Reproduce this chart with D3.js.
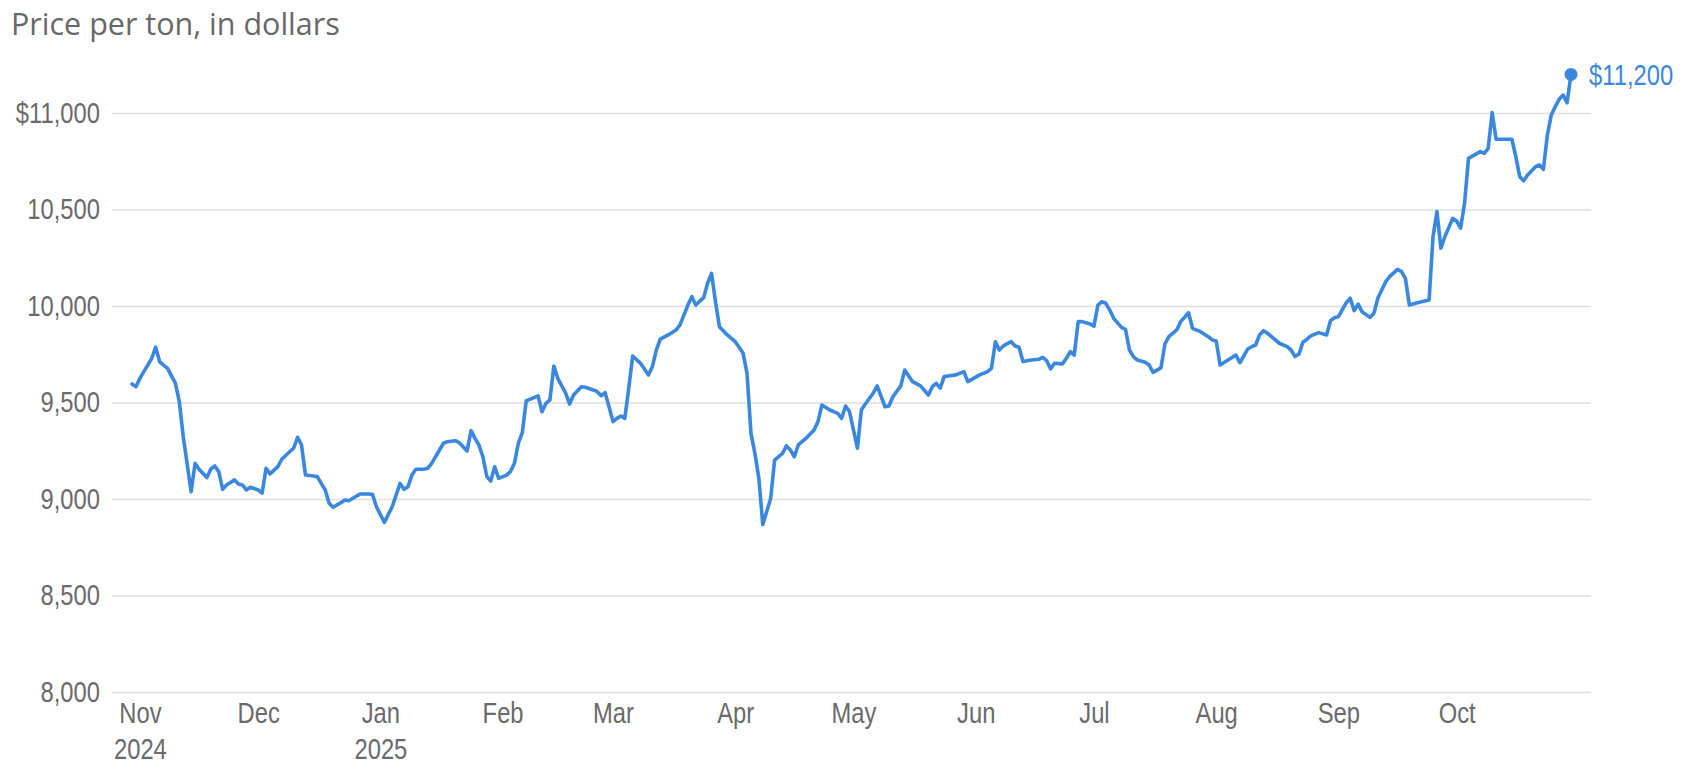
<!DOCTYPE html>
<html>
<head>
<meta charset="utf-8">
<script src="https://cdn.jsdelivr.net/npm/d3@7"></script>
<style>
  body { margin: 0; background: #fff; }
</style>
</head>
<body>
<svg id="chart" width="1684" height="776"></svg>
<script>
// daily closes, [day of month, $ per ton]
const oct2024 = [[30, 9596], [31, 9582]];
const nov2024 = [[1, 9625], [2, 9660], [3, 9694], [4, 9729], [5, 9786], [6, 9712], [7, 9694], [8, 9677], [10, 9600],
  [11, 9504], [12, 9323], [14, 9038], [15, 9185], [16, 9154], [18, 9111], [19, 9156], [20, 9171], [21, 9142],
  [22, 9050], [23, 9073], [25, 9099], [26, 9078], [27, 9073], [28, 9047], [29, 9061]];
const dec2024 = [[1, 9047], [2, 9030], [3, 9159], [4, 9130], [6, 9168], [7, 9206], [9, 9245], [10, 9263], [11, 9320],
  [12, 9280], [13, 9124], [15, 9119], [16, 9116], [17, 9081], [18, 9047], [19, 8978], [20, 8957], [22, 8981],
  [23, 8995], [24, 8991], [26, 9016], [27, 9026], [29, 9026], [30, 9024], [31, 8960]];
const jan2025 = [[2, 8879], [4, 8960], [6, 9081], [7, 9050], [8, 9064], [9, 9124], [10, 9154], [12, 9154], [13, 9159],
  [14, 9185], [16, 9254], [17, 9289], [18, 9297], [20, 9302], [21, 9292], [22, 9271], [23, 9249], [24, 9354],
  [25, 9314], [26, 9280], [27, 9219], [28, 9116], [29, 9093], [30, 9167], [31, 9107]];
const feb2025 = [[2, 9124], [3, 9142], [4, 9185], [5, 9289], [6, 9344], [7, 9509], [9, 9525], [10, 9534], [11, 9452],
  [12, 9496], [13, 9513], [14, 9689], [15, 9625], [17, 9548], [18, 9492], [19, 9539], [21, 9582], [22, 9579],
  [24, 9565], [25, 9556], [26, 9535], [27, 9551], [28, 9478]];
const mar2025 = [[1, 9401], [2, 9418], [3, 9430], [4, 9418], [5, 9574], [6, 9741], [8, 9703], [10, 9643], [11, 9686],
  [12, 9772], [13, 9828], [15, 9850], [17, 9876], [18, 9902], [19, 9953], [20, 10005], [21, 10048], [22, 10005],
  [23, 10025], [24, 10043], [25, 10118], [26, 10169], [27, 10022], [28, 9893], [30, 9850]];
const apr2025 = [[1, 9815], [2, 9786], [3, 9755], [4, 9651], [5, 9340], [6, 9236], [7, 9107], [8, 8868], [10, 9003],
  [11, 9202], [13, 9236], [14, 9275], [15, 9254], [16, 9219], [17, 9280], [19, 9315], [21, 9358], [22, 9401],
  [23, 9487], [25, 9461], [27, 9444], [28, 9418], [29, 9482], [30, 9452]];
const may2025 = [[2, 9263], [3, 9461], [4, 9492], [6, 9548], [7, 9586], [9, 9478], [10, 9482], [11, 9530], [13, 9586],
  [14, 9668], [16, 9608], [18, 9586], [20, 9539], [21, 9582], [22, 9599], [23, 9574], [24, 9634], [25, 9637],
  [27, 9643], [29, 9660], [30, 9608]];
const jun2025 = [[2, 9643], [4, 9660], [5, 9677], [6, 9815], [7, 9772], [8, 9793], [10, 9815], [11, 9793], [12, 9786],
  [13, 9712], [15, 9720], [17, 9724], [18, 9734], [19, 9717], [20, 9674], [21, 9703], [23, 9700], [24, 9729],
  [25, 9763], [26, 9746], [27, 9919], [28, 9919], [30, 9907]];
const jul2025 = [[1, 9896], [2, 10005], [3, 10022], [4, 10014], [5, 9979], [6, 9936], [8, 9889], [9, 9879], [10, 9772],
  [11, 9738], [12, 9720], [14, 9709], [15, 9694], [16, 9656], [17, 9668], [18, 9680], [19, 9803], [20, 9841],
  [22, 9876], [23, 9919], [25, 9965], [26, 9884], [28, 9867], [30, 9841], [31, 9824]];
const aug2025 = [[1, 9819], [2, 9694], [4, 9720], [6, 9746], [7, 9706], [9, 9777], [10, 9789], [11, 9798], [12, 9850],
  [13, 9872], [14, 9859], [16, 9824], [17, 9807], [19, 9789], [20, 9772], [21, 9738], [22, 9751], [23, 9812],
  [24, 9827], [25, 9845], [27, 9862], [29, 9850], [30, 9924], [31, 9939]];
const sep2025 = [[1, 9945], [3, 10017], [4, 10040], [5, 9976], [6, 10010], [7, 9970], [9, 9941], [10, 9962], [11, 10040],
  [13, 10126], [14, 10152], [16, 10190], [17, 10178], [18, 10143], [19, 10005], [21, 10017], [24, 10031],
  [25, 10359], [26, 10489], [27, 10299], [28, 10359], [30, 10454]];
const oct2025 = [[1, 10440], [2, 10403], [3, 10532], [4, 10765], [6, 10788], [7, 10800], [8, 10791], [9, 10817],
  [10, 11002], [11, 10864], [13, 10864], [15, 10864], [16, 10774], [17, 10670], [18, 10649], [19, 10679],
  [21, 10722], [22, 10731], [23, 10708], [24, 10886], [25, 10990], [26, 11033], [27, 11071], [28, 11093],
  [29, 11053], [30, 11200]];

const months = [[2024, 10, oct2024], [2024, 11, nov2024], [2024, 12, dec2024], [2025, 1, jan2025],
  [2025, 2, feb2025], [2025, 3, mar2025], [2025, 4, apr2025], [2025, 5, may2025], [2025, 6, jun2025],
  [2025, 7, jul2025], [2025, 8, aug2025], [2025, 9, sep2025], [2025, 10, oct2025]];

const yTicks = [8000, 8500, 9000, 9500, 10000, 10500, 11000];
const monthTicks = ["2024-11-01", "2024-12-01", "2025-01-01", "2025-02-01", "2025-03-01", "2025-04-01",
  "2025-05-01", "2025-06-01", "2025-07-01", "2025-08-01", "2025-09-01", "2025-10-01"];
const monthLabels = ["Nov", "Dec", "Jan", "Feb", "Mar", "Apr", "May", "Jun", "Jul", "Aug", "Sep", "Oct"];
const yearLabels = ["2024", "", "2025", "", "", "", "", "", "", "", "", ""];
const title = "Price per ton, in dollars";
const endLabel = "$11,200";

const data = months.flatMap(([yr, mo, rows]) =>
  rows.map(([d, v]) => ({ date: new Date(yr, mo - 1, d), value: v })));

const blue = "#3a87e0";
const grey = "#6a6a6a";
// no narrow face installed, so squeeze Liberation Sans sideways
const narrow = '"Liberation Sans", Arial, sans-serif';
const squeeze = 0.82;

const svg = d3.select("#chart");

const x = d3.scaleTime()
  .domain(d3.extent(data, d => d.date))
  .range([132, 1571]);

const y = d3.scaleLinear()
  .domain([8000, 11000])
  .range([692, 113]);

svg.append("text")
  .attr("x", 11)
  .attr("y", 35)
  .attr("fill", "#686868")
  .attr("font-family", '"Open Sans", sans-serif')
  .attr("font-size", 30.5)
  .text(title);

// gridlines and y labels
svg.append("g")
  .attr("transform", "translate(112,0)")
  .call(d3.axisLeft(y)
    .tickValues(yTicks)
    .tickSize(-(1591 - 112))
    .tickPadding(12)
    .tickFormat(d => (d === 11000 ? "$" : "") + d3.format(",")(d)))
  .attr("font-family", narrow)
  .attr("font-size", 29)
  .call(g => g.select(".domain").remove())
  .call(g => g.selectAll(".tick line").attr("stroke", "#dedede").attr("stroke-width", 1.6))
  .call(g => g.selectAll(".tick text")
    .attr("fill", grey)
    .attr("x", -12 / squeeze)
    .attr("transform", `scale(${squeeze},1)`));

// month labels, year on second line
const gx = svg.append("g")
  .attr("transform", "translate(0,692)")
  .call(d3.axisBottom(x)
    .tickValues(monthTicks.map(d3.isoParse))
    .tickSize(0)
    .tickPadding(10))
  .attr("font-family", narrow)
  .attr("font-size", 29);
gx.select(".domain").remove();
gx.selectAll(".tick text")
  .attr("fill", grey)
  .attr("transform", `scale(${squeeze},1)`)
  .each(function (d, i) {
    const t = d3.select(this).text(null);
    t.append("tspan").attr("x", 0).text(monthLabels[i]);
    if (yearLabels[i]) t.append("tspan").attr("x", 0).attr("dy", "1.26em").text(yearLabels[i]);
  });

const line = d3.line()
  .x(d => x(d.date))
  .y(d => y(d.value));

svg.append("path")
  .datum(data)
  .attr("fill", "none")
  .attr("stroke", blue)
  .attr("stroke-width", 3.6)
  .attr("stroke-linejoin", "round")
  .attr("stroke-linecap", "round")
  .attr("d", line);

const last = data[data.length - 1];
svg.append("circle")
  .attr("cx", x(last.date))
  .attr("cy", y(last.value))
  .attr("r", 6.5)
  .attr("fill", blue);

svg.append("text")
  .attr("transform", `translate(${x(last.date) + 18},${y(last.value)}) scale(${squeeze},1)`)
  .attr("dy", "0.35em")
  .attr("fill", blue)
  .attr("font-family", narrow)
  .attr("font-size", 29)
  .text(endLabel);
</script>
</body>
</html>
